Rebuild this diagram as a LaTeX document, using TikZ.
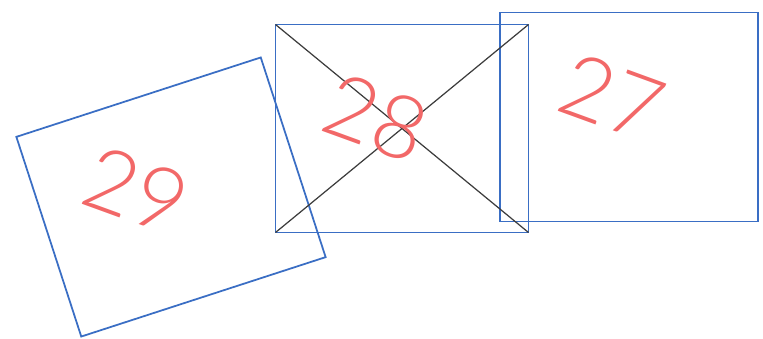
\documentclass[tikz,border=0pt]{standalone}
\usepackage{fontspec}
\setmainfont{Lato Light}
\usepackage{tikz}
\usetikzlibrary{positioning}
\definecolor{bleuCadre}{RGB}{58,110,196}
\definecolor{rougeNum}{RGB}{242,104,104}
\definecolor{grisCroix}{RGB}{60,60,60}

\begin{document}
\begin{tikzpicture}[x=0.02cm,y=-0.02cm,
  cadre/.style={rectangle,draw=bleuCadre,line width=1pt,inner sep=0pt,outer sep=0pt},
  numero/.style={text=rougeNum,font=\fontsize{50}{50}\selectfont,rotate=-20,inner sep=0pt}]
  \useasboundingbox (0,0) rectangle (763,338);
  \node[cadre,minimum width=5.14cm,minimum height=4.2cm,rotate=18] (R29) at (171,197) {};
  \node[cadre,minimum width=5.06cm,minimum height=4.16cm] (R28) at (402,128.5) {};
  \node[cadre,minimum width=5.16cm,minimum height=4.18cm] (R27) at (629,117) {};

  \draw[grisCroix,line width=0.7pt] (R28.north west)--(R28.south east);
  \draw[grisCroix,line width=0.7pt] (R28.south west)--(R28.north east);

  \node[numero] (N29) at (136,190) {29};
  \node[numero] (N28) at (376,118) {28};
  \node[numero] (N27) at (612,97) {27};
\end{tikzpicture}
\end{document}
